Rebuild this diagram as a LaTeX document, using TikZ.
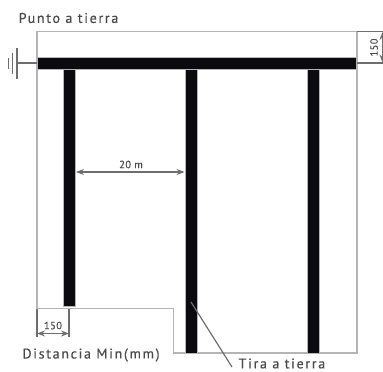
\documentclass[tikz,border=0pt]{standalone}
\usepackage{fontspec}
\setmainfont{PT Sans}
\newfontfamily\spaced[LetterSpace=12,FakeBold=0.4]{PT Sans}
\newfontfamily\spacedsmall[LetterSpace=4,FakeBold=0.3]{PT Sans}
\usetikzlibrary{arrows.meta}
\definecolor{strip}{HTML}{0B0A0F}
\definecolor{edge}{HTML}{B5B5B5}
\definecolor{dim}{HTML}{6E6E6E}
\definecolor{txt}{HTML}{4A4A4A}
\tikzset{
  outline/.style={draw=edge,line width=1.2pt},
  stripbar/.style={fill=strip,draw=edge,line width=.5pt},
  dimline/.style={draw=dim,line width=1.2pt},
  dimarrow/.style={draw=dim,line width=1.2pt,{Stealth[length=8pt,width=6pt]}-{Stealth[length=8pt,width=6pt]}},
  label/.style={text=txt,font=\spaced\fontsize{14}{16}\selectfont,inner sep=0pt},
  small/.style={text=txt,font=\spacedsmall\fontsize{10.5}{12}\selectfont,inner sep=0pt}
}
\begin{document}
\begin{tikzpicture}[x=1pt,y=-1pt]
\useasboundingbox (0,0) rectangle (383,372);
% outline
\draw[outline] (37,31.5) -- (357,31.5) -- (357,353) -- (173.5,353) -- (173.5,308.5) -- (37,308.5) -- cycle;
% strips
\path[stripbar] (63,69) rectangle (75,306);
\path[stripbar] (185,69) rectangle (197,353);
\path[stripbar] (307,69) rectangle (319,353);
\path[stripbar] (37.5,57) rectangle (356.5,69);
% earth
\coordinate (g0) at (37,63);
\coordinate (g1) at (17,63);
\draw[dimline] (g0) -- (g1);
\draw[dimline] (17,47.5) -- (17,79);
\draw[dimline] (12.7,53) -- (12.7,74);
\draw[dimline] (8.7,57.5) -- (8.7,68.5);
% 150 right
\draw[dimline] (357,31.5) -- (383,31.5);
\draw[dimline] (357,63) -- (383,63);
\draw[dimarrow] (382.5,32) -- (382.5,62.5);
\node[small,rotate=90] (n150r) at (374,47.5) {150};
% 150 bottom
\coordinate (a1) at (37,333.5);
\coordinate (a2) at (69,333.5);
\draw[dimline] (37,308.5) -- (37,337);
\draw[dimline] (69,308.5) -- (69,337);
\draw[dimarrow] (a1) -- (a2);
\node[small] (n150b) at (53,325.5) {150};
% 20 m
\coordinate (b1) at (76,172);
\coordinate (b2) at (184.5,172);
\draw[dimarrow] (b1) -- (b2);
\node[small] (n20) at (131,164.5) {20 m};
% labels
\node[label] (punto) at (68.5,18) {Punto a tierra};
\node[label] (dist) at (91,355) {Distancia Min(mm)};
\node[label,anchor=west] (tira) at (238.5,363.5) {Tira a tierra};
\coordinate (lead) at (191,302);
\draw[dimline] (lead) -- (232,367);
\end{tikzpicture}
\end{document}
